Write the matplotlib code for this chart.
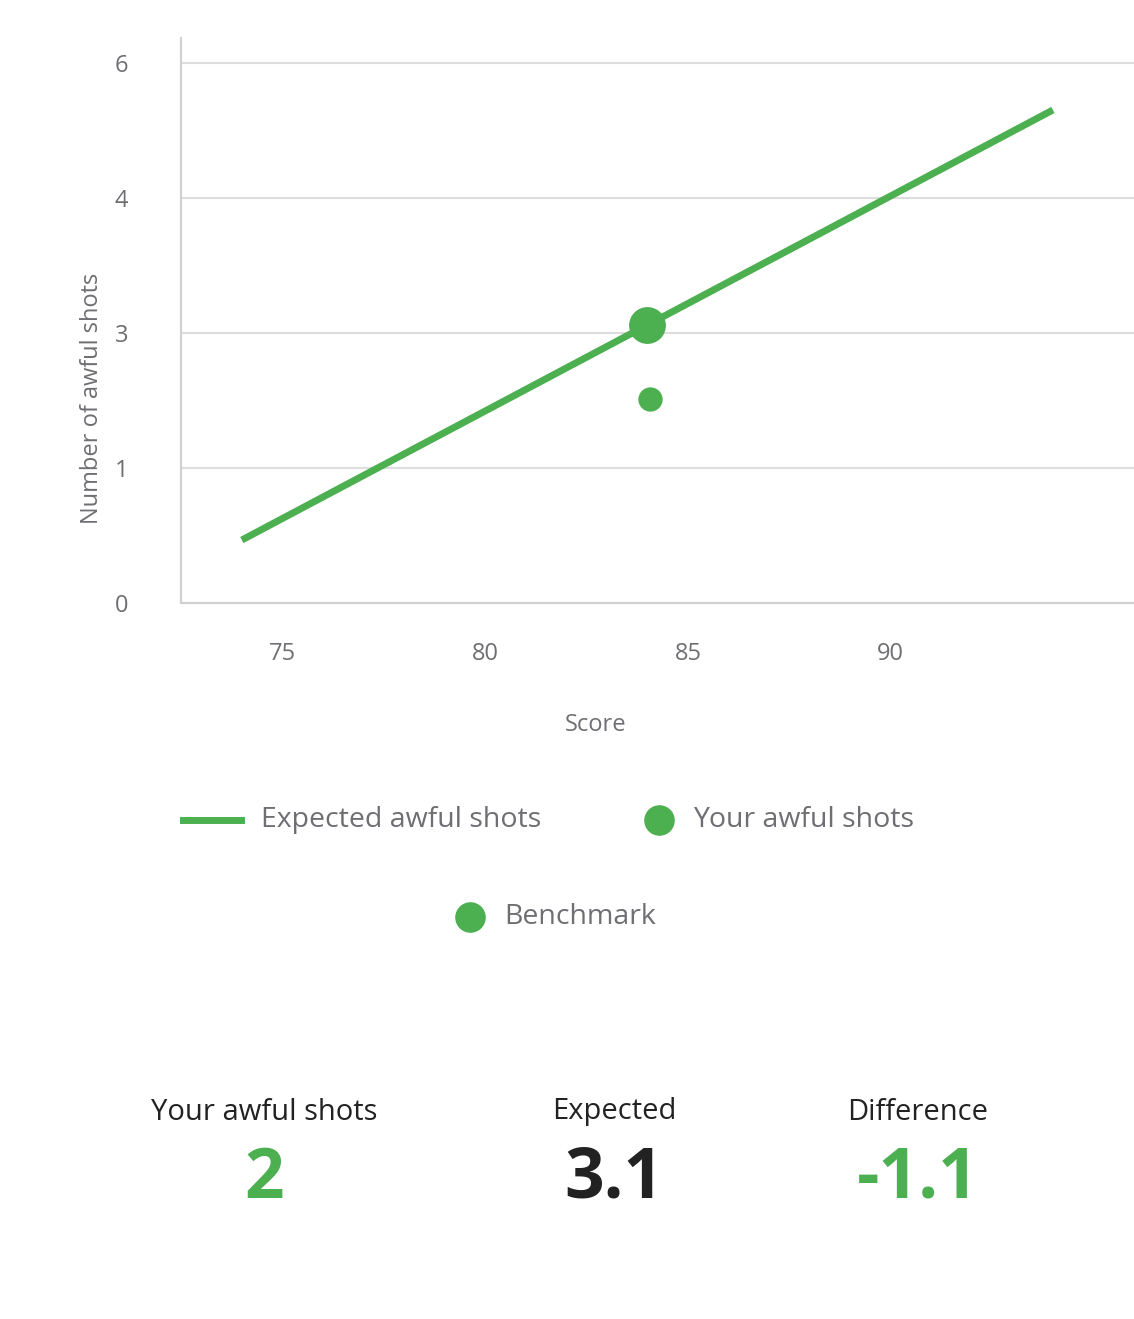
import matplotlib
matplotlib.use("Agg")
import matplotlib.pyplot as plt
from matplotlib.lines import Line2D

plt.rcParams['font.family'] = ['Open Sans', 'DejaVu Sans']
GREEN = '#4caf50'
GREY = '#6e6e73'

line_x = [74, 94]
line_y = [0.70, 5.48]
your_x, your_y = [84.07], [2.27]
bench_x, bench_y = [84.0], [3.09]
yticks = [0, 1.5, 3, 4.5, 6]
ytick_labels = ['0', '1', '3', '4', '6']
xticks = [75, 80, 85, 90]
stat_labels = ['Your awful shots', 'Expected', 'Difference']
stat_values = ['2', '3.1', '-1.1']
stat_colors = [GREEN, '#222222', GREEN]

W, H = 1134, 1319
fig = plt.figure(figsize=(W/100, H/100), dpi=100)
ax = fig.add_axes([181/W, 1-603/H, 1-181/W, (603-38)/H])
ax.plot(line_x, line_y, color=GREEN, lw=5, solid_capstyle='butt')
ax.scatter(your_x, your_y, s=380, color=GREEN, edgecolor='white', linewidth=2, zorder=3)
ax.scatter(bench_x, bench_y, s=650, color=GREEN, zorder=3)
ax.set_xlim(72.5, 96)
ax.set_ylim(0, 6.28)
ax.set_yticks(yticks)
ax.set_yticklabels(ytick_labels)
ax.set_xticks(xticks)
ax.tick_params(length=0, labelsize=17, colors=GREY)
ax.tick_params(axis='x', pad=28)
ax.tick_params(axis='y', pad=38)
ax.grid(axis='y', color='#dddddd', lw=1.5)
ax.set_axisbelow(True)
for s in ['top', 'right']:
    ax.spines[s].set_visible(False)
for s in ['left', 'bottom']:
    ax.spines[s].set_color('#d0d0d0')
    ax.spines[s].set_linewidth(1.5)
ax.set_xlabel('Score', fontsize=17, color=GREY)
ax.xaxis.set_label_coords((596-181)/953, -(725-603)/565, transform=ax.transAxes)
ax.xaxis.label.set_va('center')
ax.set_ylabel('Number of awful shots', fontsize=17, color=GREY)
ax.yaxis.set_label_coords(-(181-92)/953, (603-398)/565, transform=ax.transAxes)
ax.yaxis.label.set_va('center')

def fy(y): return 1 - y/H
def fx(x): return x/W
fig.add_artist(Line2D([fx(183), fx(241)], [fy(820)]*2, color=GREEN, lw=5))
fig.text(fx(261), fy(820), 'Expected awful shots', fontsize=20.5, color=GREY, va='center')
fig.add_artist(Line2D([fx(659)], [fy(820)], marker='o', ms=21, color=GREEN))
fig.text(fx(693), fy(820), 'Your awful shots', fontsize=20.5, color=GREY, va='center')
fig.add_artist(Line2D([fx(470)], [fy(917)], marker='o', ms=21, color=GREEN))
fig.text(fx(504), fy(917), 'Benchmark', fontsize=20.5, color=GREY, va='center')

for cx, lab, val, col in zip([264, 614, 918], stat_labels, stat_values, stat_colors):
    fig.text(fx(cx), fy(1112), lab, fontsize=21, color='#222222', ha='center', va='center')
    fig.text(fx(cx), fy(1180), val, fontsize=50, color=col, ha='center', va='center', fontweight='bold')

fig.savefig('out.png', dpi=100, facecolor='white')
